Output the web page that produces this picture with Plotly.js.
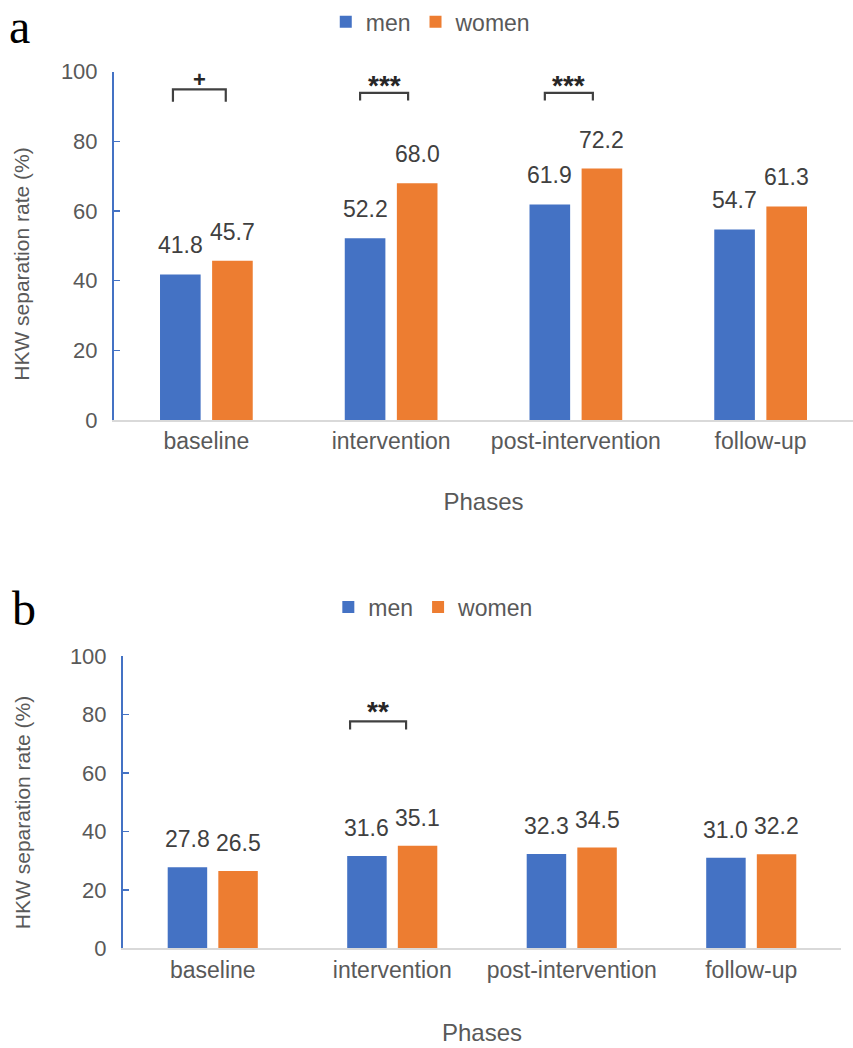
<!DOCTYPE html>
<html>
<head>
<meta charset="utf-8">
<script src="https://cdn.plot.ly/plotly-3.0.1.min.js"></script>
<style>html,body{margin:0;padding:0;background:#fff}#chart{width:853px;height:1048px}</style>
</head>
<body>
<div id="chart"></div>
<script>
// ---- data ----
var phases = ["baseline", "intervention", "post-intervention", "follow-up"];
var menA = [41.8, 52.2, 61.9, 54.7];
var womenA = [45.7, 68.0, 72.2, 61.3];
var menB = [27.8, 31.6, 32.3, 31.0];
var womenB = [26.5, 35.1, 34.5, 32.2];
var sigA = ["+", "***", "***", ""];
var sigB = ["", "**", "", ""];
var yTicks = [0, 20, 40, 60, 80, 100];
var yTitle = "HKW separation rate (%)";
var xTitle = "Phases";

var BLUE = "#4472C4", ORANGE = "#ED7D31", GREY = "#595959";
var FONT = "Liberation Sans, Arial, sans-serif";
var H = 1048;

function bars(name, x, y, color, xa, ya, leg) {
  return {type: "bar", name: name, x: x, y: y, xaxis: xa, yaxis: ya, legend: leg,
    marker: {color: color}, hoverinfo: "skip"};
}
var data = [
  bars("men", phases, menA, BLUE, "x", "y", "legend"),
  bars("women", phases, womenA, ORANGE, "x", "y", "legend"),
  bars("men", phases, menB, BLUE, "x2", "y2", "legend2"),
  bars("women", phases, womenB, ORANGE, "x2", "y2", "legend2")
];

var annotations = [];
var shapes = [];
function labels(vals, xr, yr, dx, dy) {
  vals.forEach(function (v, i) {
    annotations.push({xref: xr, yref: yr, x: phases[i], y: v, xshift: dx, yshift: dy,
      text: v.toFixed(1), showarrow: false, yanchor: "middle",
      font: {family: FONT, size: 23, color: "#404040"}});
  });
}
labels(menA, "x", "y", -26, 29);
labels(womenA, "x", "y", 26, 29);
labels(menB, "x2", "y2", -25.5, 28);
labels(womenB, "x2", "y2", 25.5, 28);

function bracket(i, xr, yr, x0, x1, yTop, yLeg, yTxt, txt, size) {
  var path = "M" + (i + x0) + "," + yLeg + " L" + (i + x0) + "," + yTop +
    " L" + (i + x1) + "," + yTop + " L" + (i + x1) + "," + yLeg;
  shapes.push({type: "path", xref: xr, yref: yr, path: path,
    line: {color: "#404040", width: 2.2}});
  annotations.push({xref: xr, yref: yr, x: i + (x0 + x1) / 2, y: yTxt, text: "<b>" + txt + "</b>",
    showarrow: false, yanchor: "middle", font: {family: FONT, size: size, color: "#262626"}});
}
sigA.forEach(function (s, i) {
  if (!s) return;
  if (s === "+") bracket(i, "x", "y", -0.181, 0.105, 94.9, 91.4, 97.7, s, 22);
  else bracket(i, "x", "y", -0.168, 0.092, 93.9, 91.7, 96.0, s, 28);
});
sigB.forEach(function (s, i) {
  if (!s) return;
  bracket(i, "x2", "y2", -0.235, 0.077, 77.6, 74.8, 81.0, s, 28);
});

// panel letters
annotations.push({xref: "paper", yref: "paper", x: 0.008, y: 1 - 50 / H, xanchor: "left", yanchor: "bottom",
  text: "a", showarrow: false, font: {family: "Liberation Serif, Times New Roman, serif", size: 48, color: "#000"}});
annotations.push({xref: "paper", yref: "paper", x: 0.012, y: 1 - 580 / H, xanchor: "left", yanchor: "top", yshift: 2,
  text: "b", showarrow: false, font: {family: "Liberation Serif, Times New Roman, serif", size: 48, color: "#000"}});
// y-axis titles
[[261, 22], [812, 22]].forEach(function (p) {
  annotations.push({xref: "paper", yref: "paper", x: p[1] / 853, y: 1 - p[0] / H, xanchor: "center", yanchor: "middle",
    textangle: -90, text: yTitle, showarrow: false, font: {family: FONT, size: 21, color: GREY}});
});

function yax(dom, anchor) {
  return {domain: dom, anchor: anchor, range: [0, 100], tickvals: yTicks, ticks: "inside", ticklen: 6,
    tickcolor: BLUE, tickwidth: 1.5, linecolor: BLUE, linewidth: 2, showline: true, showgrid: false,
    zeroline: false, ticklabelstandoff: 10, tickfont: {family: FONT, size: 22, color: GREY},
    automargin: false, fixedrange: true};
}
function xax(dom, anchor, standoff) {
  return {domain: dom, anchor: anchor, range: [-0.5, 3.5], showline: true, linecolor: "#D9D9D9", linewidth: 1.5,
    ticks: "", showgrid: false, tickfont: {family: FONT, size: 23, color: GREY},
    title: {text: xTitle, font: {family: FONT, size: 24, color: GREY}, standoff: standoff},
    automargin: false, fixedrange: true};
}

var layout = {
  width: 853, height: H,
  margin: {l: 0, r: 0, t: 0, b: 0},
  paper_bgcolor: "#fff", plot_bgcolor: "#fff",
  barmode: "group", bargap: 0.436, bargroupgap: 0.22,
  xaxis: xax([114 / 853, 1], "y", 40),
  yaxis: yax([1 - 417 / H, 1 - 67 / H], "x"),
  xaxis2: xax([123 / 853, 841 / 853], "y2", 42),
  yaxis2: yax([1 - 948 / H, 1 - 654 / H], "x2"),
  legend: {orientation: "h", x: 0.505, xanchor: "center", y: 1 - 17 / H, yanchor: "middle",
    font: {family: FONT, size: 23, color: GREY}},
  legend2: {orientation: "h", x: 0.508, xanchor: "center", y: 1 - 605 / H, yanchor: "middle",
    font: {family: FONT, size: 23, color: GREY}},
  annotations: annotations,
  shapes: shapes,
  showlegend: true
};
Plotly.newPlot("chart", data, layout, {staticPlot: true});
</script>
</body>
</html>
